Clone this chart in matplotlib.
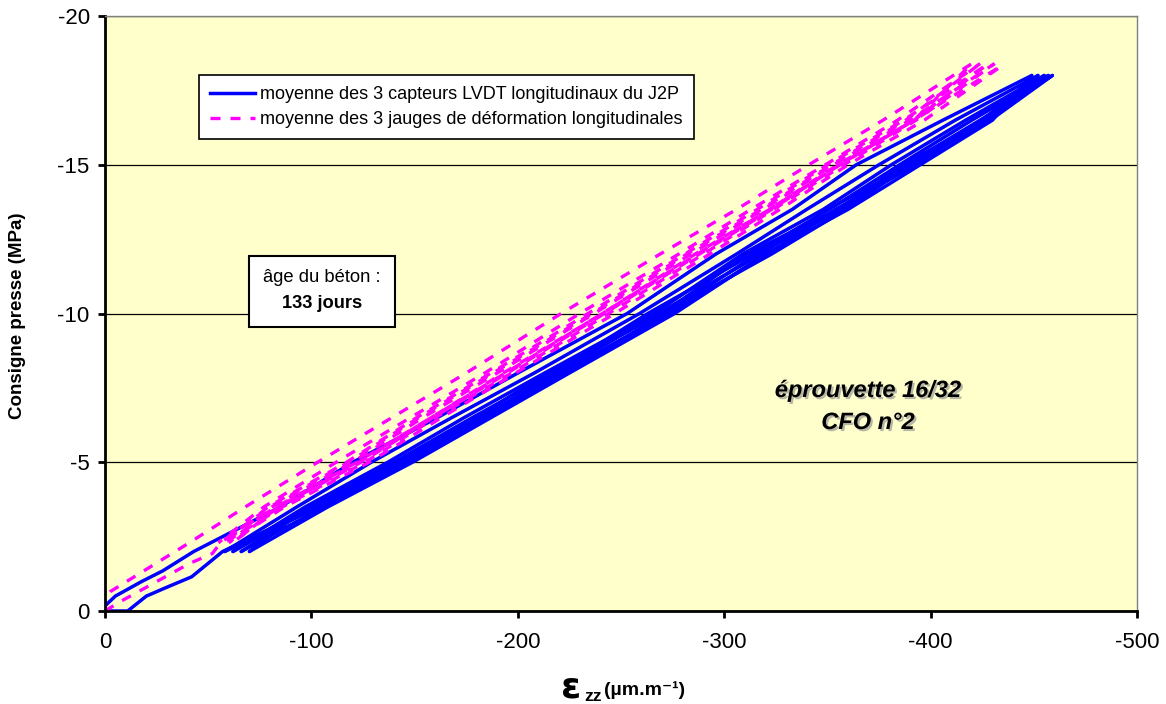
import matplotlib
matplotlib.use("Agg")
import matplotlib.pyplot as plt
import matplotlib.patheffects as pe
from matplotlib.lines import Line2D
from matplotlib.patches import Rectangle

plt.rcParams['font.family'] = ['Liberation Sans', 'DejaVu Sans']
plt.rcParams['axes.unicode_minus'] = False

# stress levels (MPa) at which the loops were read
blue_levels = [-2, -3.5, -5, -6.5, -8, -10, -12, -13.5, -15, -16.5, -18]
pink_levels = [-2.3, -3.5, -5, -6.5, -8, -10, -12, -13.5, -15, -16.5, -18.4]

# LVDT (blue) - strain at each level, bottom to top
blue_start_x = [0, -11, -20, -30, -42]
blue_start_y = [0, 0, -0.5, -0.8, -1.15]
blue_load0 = [-57, -102, -140, -182, -219, -268, -318, -350, -391, -425, -452]
blue_unload1 = [-58, -93, -129, -168, -208, -259, -306, -340, -375, -412, -452]
blue_load1 = [-58, -104, -146, -181, -222, -272, -316, -357, -386, -428, -455]
blue_unload2 = [-62, -97, -137, -174, -213, -266, -309, -348, -381, -417, -455]
blue_load2 = [-62, -101, -144, -185, -220, -274, -321, -354, -393, -426, -457]
blue_unload3 = [-66, -100, -140, -178, -217, -263, -314, -351, -385, -420, -457]
blue_load3 = [-66, -106, -147, -183, -224, -271, -323, -359, -390, -429, -459]
blue_unload4 = [-70, -98, -143, -180, -214, -270, -311, -355, -388, -424, -459]
blue_load4 = [-70, -108, -149, -187, -225, -276, -320, -360, -395, -430, -449]
blue_final = [-43, -85, -120, -161, -200, -253, -296, -333, -364, -406, -449]
blue_end_x = [-28, -18, -5, 0]
blue_end_y = [-1.35, -1.0, -0.5, -0.17]

# strain gauges (magenta)
pink_start_x = [0, -7, -41, -52]
pink_start_y = [0, -0.3, -1.6, -1.93]
pink_load0 = [-56, -80, -118, -152, -188, -236, -282, -318, -352, -388, -424]
pink_unload1 = [-55, -77, -112, -148, -184, -230, -278, -313, -349, -384, -424]
pink_load1 = [-55, -83, -122, -158, -193, -241, -286, -322, -355, -392, -428]
pink_unload2 = [-58, -79, -117, -151, -187, -234, -281, -316, -350, -387, -428]
pink_load2 = [-58, -86, -126, -160, -197, -244, -290, -324, -358, -393, -431]
pink_unload3 = [-60, -81, -120, -154, -190, -237, -284, -319, -353, -390, -431]
pink_load3 = [-60, -87, -128, -163, -199, -247, -293, -327, -360, -397, -436]
pink_unload4 = [-62, -84, -123, -158, -194, -241, -287, -322, -356, -392, -436]
pink_load4 = [-62, -84, -124, -159, -195, -242, -288, -323, -356, -392, -420]
pink_final = [-41, -68, -103, -139, -175, -221, -269, -306, -341, -377, -420]
pink_end_x = [-2.5, 0, 0]
pink_end_y = [-0.65, -0.45, 0]

labels = ["moyenne des 3 capteurs LVDT longitudinaux du J2P",
          "moyenne des 3 jauges de déformation longitudinales"]
x_ticks = [0, -100, -200, -300, -400, -500]
y_ticks = [0, -5, -10, -15, -20]


def legs(start_x, start_y, loads, unloads, final, end_x, end_y, levels):
    # one (x, y) piece per loading / unloading branch, joined end to end
    out = []
    px, py = list(start_x), list(start_y)
    for i, ld in enumerate(loads):
        out.append((px + ld, py + levels))
        px, py = [ld[-1]], [levels[-1]]
        un = unloads[i] if i < len(unloads) else final
        out.append((px + un[::-1], py + levels[::-1]))
        px, py = [un[0]], [levels[0]]
    x, y = out[-1]
    out[-1] = (x + end_x, y + end_y)
    return out


blue_legs = legs(blue_start_x, blue_start_y,
                 [blue_load0, blue_load1, blue_load2, blue_load3, blue_load4],
                 [blue_unload1, blue_unload2, blue_unload3, blue_unload4],
                 blue_final, blue_end_x, blue_end_y, blue_levels)
pink_legs = legs(pink_start_x, pink_start_y,
                 [pink_load0, pink_load1, pink_load2, pink_load3, pink_load4],
                 [pink_unload1, pink_unload2, pink_unload3, pink_unload4],
                 pink_final, pink_end_x, pink_end_y, pink_levels)

W, H = 1166, 704
fig = plt.figure(figsize=(W / 100, H / 100), dpi=100)
ax = fig.add_axes([105 / W, 1 - 611 / H, 1032 / W, 595 / H])
ax.set_facecolor('#FFFFCC')

for x, y in blue_legs:
    ax.plot(x, y, color='#0000FF', lw=2.5, solid_joinstyle='round',
            solid_capstyle='round')
for k, (x, y) in enumerate(pink_legs):
    ax.plot(x, y, color='#FF00FF', lw=2.4, ls=((k * 1.3) % 6, (3, 3)))

ax.set_xlim(0, -500)
ax.set_ylim(0, -20)
ax.set_xticks(x_ticks)
ax.set_yticks(y_ticks)
ax.set_axisbelow(True)
ax.grid(axis='y', color='black', lw=0.9)
ax.tick_params(direction='out', length=5, width=2, labelsize=16)
ax.tick_params(axis='x', pad=10)
ax.tick_params(axis='y', pad=6)
for s in ['left', 'bottom']:
    ax.spines[s].set_linewidth(2)
for s in ['top', 'right']:
    ax.spines[s].set_color('#808080')
    ax.spines[s].set_linewidth(1)

handles = [Line2D([], [], color='#0000FF', lw=2.5),
           Line2D([], [], color='#FF00FF', lw=2.4, ls=(0, (3, 3)))]
leg = ax.legend(handles, labels, loc='upper left', bbox_to_anchor=(0.0911, 0.9008),
                borderaxespad=0, fancybox=False, framealpha=1, edgecolor='black',
                fontsize=13, handlelength=2.5, handletextpad=0.3,
                labelspacing=0.45, borderpad=0.6)
leg.get_frame().set_linewidth(1.2)

ax.add_patch(Rectangle((0.1395, 0.4773), 0.1415, 0.1193, transform=ax.transAxes,
                       fc='white', ec='black', lw=1.5, zorder=4))
ax.text(0.2103, 0.5597, "âge du béton :", transform=ax.transAxes, ha='center',
        va='center', fontsize=13.2, zorder=5)
ax.text(0.2103, 0.5176, "133 jours", transform=ax.transAxes, ha='center',
        va='center', fontsize=13.2, fontweight='bold', zorder=5)

ax.text(0.7393, 0.3437, "éprouvette 16/32\nCFO n°2", transform=ax.transAxes,
        ha='center', va='center', fontsize=17, fontweight='bold', style='italic',
        linespacing=1.5,
        path_effects=[pe.withSimplePatchShadow(offset=(1.5, -1.5),
                                               shadow_rgbFace='#999999', alpha=0.7)])

fig.text(18 / W, 1 - 316 / H, "Consigne presse (MPa)", rotation=90, ha='center',
         va='center', fontsize=13.5, fontweight='bold')
fig.text(561 / W, 1 - 698 / H, "ε", fontsize=26, fontweight='bold', va='baseline',
         family=['DejaVu Sans'])
fig.text(584 / W, 1 - 701 / H, "zz", fontsize=12.5, fontweight='bold', va='baseline')
fig.text(604 / W, 1 - 695 / H, "(µm.m⁻¹)", fontsize=14, fontweight='bold', va='baseline')

fig.savefig('out.png', dpi=100)
